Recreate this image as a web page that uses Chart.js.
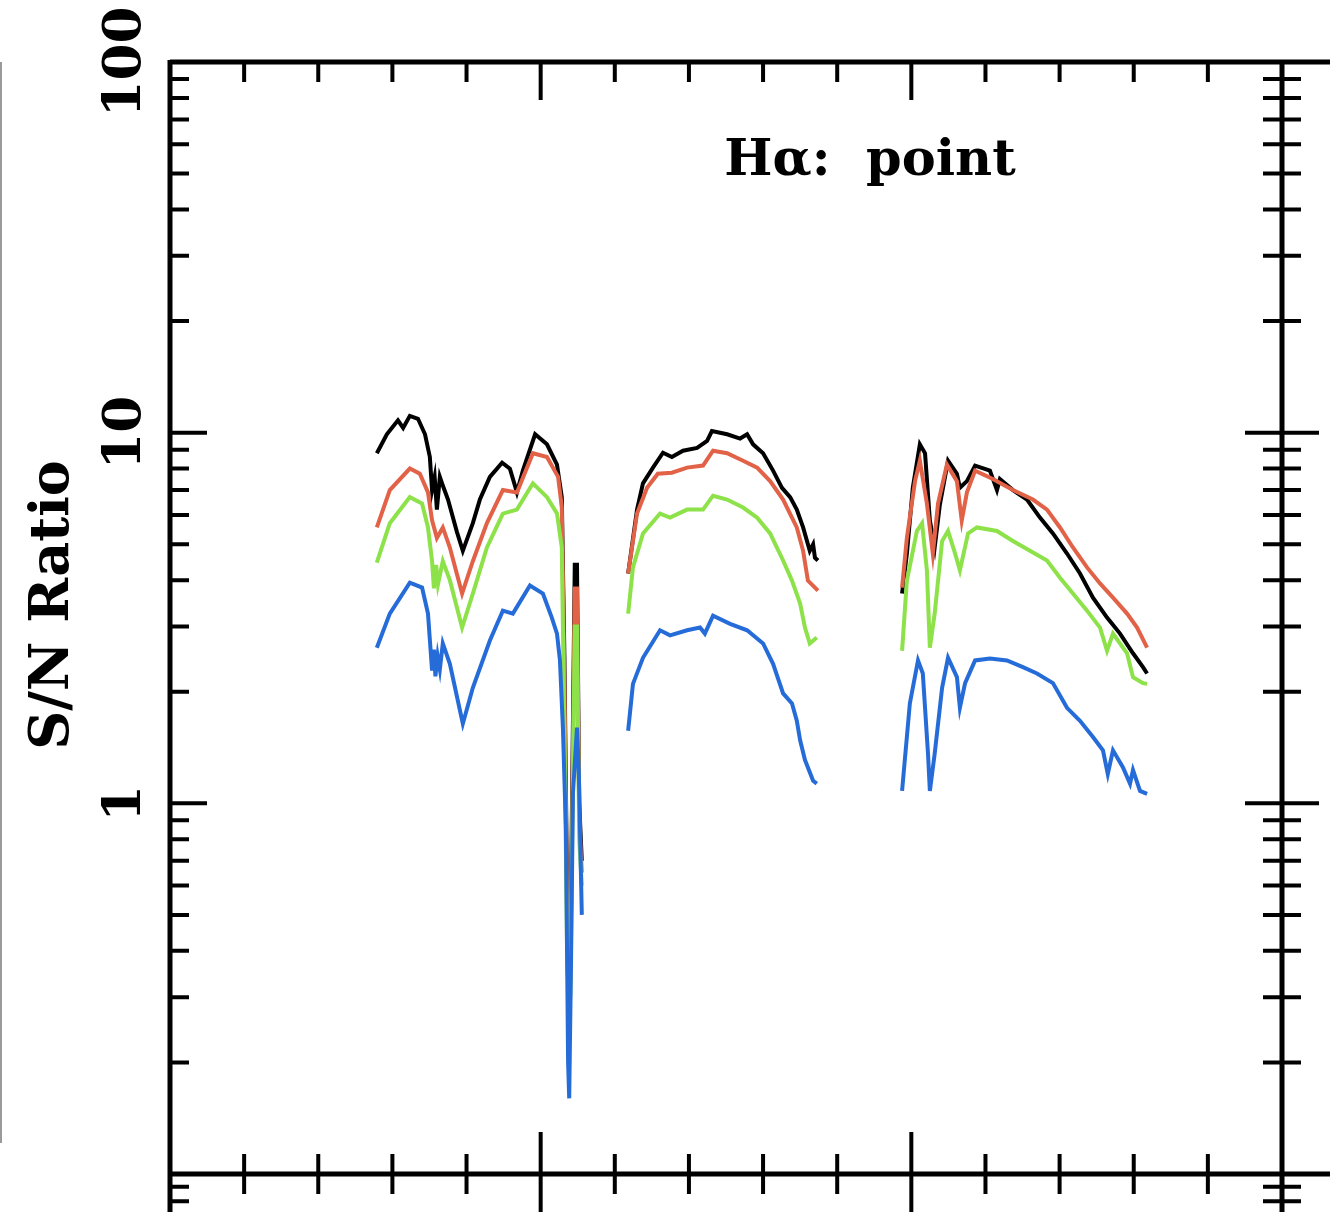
<!DOCTYPE html>
<html>
<head>
<meta charset="utf-8">
<script src="https://cdn.jsdelivr.net/npm/chart.js@4.4.1/dist/chart.umd.min.js"></script>
<style>
  html, body { margin: 0; padding: 0; background: #fff; }
  canvas { display: block; }
</style>
</head>
<body>
<canvas id="snChart" width="1342" height="1212"></canvas>
<script>
// datos: [redshift, S/N] por banda (J, H, K)
const negroJ = [[0.558,8.8],[0.585,9.9],[0.615,10.8],[0.629,10.3],[0.647,11.1],[0.669,10.9],[0.688,9.9],[0.701,8.6],[0.707,7.0],[0.714,7.6],[0.720,6.2],[0.728,7.6],[0.736,7.2],[0.750,6.6],[0.774,5.4],[0.790,4.8],[0.817,5.7],[0.836,6.6],[0.863,7.6],[0.896,8.3],[0.917,8.0],[0.936,6.9],[0.952,7.9],[0.985,9.9],[1.017,9.3],[1.044,8.2],[1.057,6.7],[1.064,2.5],[1.072,0.5],[1.080,0.4],[1.092,4.4],[1.098,4.4],[1.104,1.0],[1.111,0.7]];
const rojoJ = [[0.558,5.55],[0.593,7.0],[0.647,8.0],[0.674,7.75],[0.696,6.9],[0.707,5.8],[0.720,5.2],[0.736,5.55],[0.755,4.9],[0.788,3.68],[0.817,4.5],[0.855,5.7],[0.898,7.0],[0.936,6.9],[0.979,8.8],[1.017,8.6],[1.047,7.6],[1.057,6.3],[1.064,2.2],[1.072,0.45],[1.080,0.35],[1.092,3.8],[1.098,3.8],[1.104,0.9],[1.111,0.65]];
const verdeJ = [[0.558,4.46],[0.593,5.7],[0.647,6.7],[0.680,6.44],[0.696,5.55],[0.707,4.5],[0.712,3.8],[0.718,4.4],[0.723,3.9],[0.736,4.5],[0.755,4.0],[0.788,2.98],[0.817,3.68],[0.855,4.9],[0.898,6.05],[0.936,6.2],[0.979,7.3],[1.017,6.7],[1.044,6.05],[1.057,4.9],[1.064,1.6],[1.072,0.35],[1.080,0.3],[1.092,3.0],[1.098,3.0],[1.104,0.8],[1.111,0.6]];
const azulJ = [[0.558,2.63],[0.593,3.25],[0.647,3.94],[0.680,3.82],[0.696,3.25],[0.707,2.28],[0.712,2.6],[0.716,2.2],[0.722,2.5],[0.728,2.3],[0.736,2.7],[0.755,2.38],[0.790,1.64],[0.817,2.05],[0.863,2.75],[0.898,3.31],[0.925,3.25],[0.971,3.87],[1.006,3.68],[1.030,3.17],[1.044,2.87],[1.052,2.43],[1.060,1.6],[1.068,0.86],[1.074,0.2],[1.077,0.16],[1.082,0.38],[1.087,1.06],[1.098,1.6],[1.103,1.2],[1.111,0.5]];

const negroH = [[1.236,4.17],[1.260,6.2],[1.276,7.3],[1.303,8.05],[1.330,8.83],[1.354,8.6],[1.384,8.94],[1.422,9.1],[1.449,9.5],[1.462,10.1],[1.503,9.9],[1.538,9.64],[1.557,9.9],[1.573,9.3],[1.600,8.8],[1.627,7.9],[1.651,7.1],[1.673,6.7],[1.691,6.2],[1.708,5.55],[1.726,4.8],[1.735,5.0],[1.740,4.6],[1.748,4.52]];
const rojoH = [[1.236,4.17],[1.260,6.05],[1.287,7.1],[1.316,7.75],[1.354,7.8],[1.395,8.05],[1.438,8.15],[1.465,8.94],[1.503,8.8],[1.546,8.4],[1.584,8.05],[1.619,7.4],[1.654,6.6],[1.691,5.55],[1.708,4.8],[1.721,3.99],[1.740,3.82],[1.748,3.75]];
const verdeH = [[1.236,3.25],[1.249,4.33],[1.276,5.35],[1.322,6.05],[1.349,5.9],[1.395,6.2],[1.438,6.2],[1.465,6.76],[1.503,6.6],[1.546,6.28],[1.584,5.9],[1.619,5.35],[1.654,4.52],[1.678,3.99],[1.700,3.46],[1.713,2.98],[1.726,2.7],[1.745,2.8]];
const azulH = [[1.236,1.57],[1.249,2.1],[1.276,2.47],[1.322,2.93],[1.349,2.84],[1.395,2.93],[1.430,2.98],[1.443,2.87],[1.465,3.21],[1.511,3.05],[1.557,2.93],[1.600,2.7],[1.627,2.38],[1.654,1.98],[1.678,1.86],[1.691,1.67],[1.700,1.48],[1.713,1.31],[1.721,1.25],[1.735,1.15],[1.745,1.13]];

const negroK = [[1.975,3.68],[1.988,4.72],[2.004,7.1],[2.023,9.3],[2.037,8.8],[2.050,5.8],[2.063,4.9],[2.077,6.4],[2.099,8.4],[2.123,7.75],[2.131,7.1],[2.150,7.4],[2.172,8.15],[2.212,7.9],[2.231,7.0],[2.239,7.5],[2.274,7.0],[2.312,6.6],[2.347,5.9],[2.382,5.35],[2.420,4.72],[2.455,4.17],[2.490,3.59],[2.528,3.17],[2.563,2.87],[2.598,2.54],[2.625,2.33],[2.636,2.24]];
const rojoK = [[1.975,3.82],[1.988,5.21],[2.010,7.4],[2.023,8.4],[2.042,6.44],[2.058,4.72],[2.072,6.44],[2.096,8.2],[2.123,7.4],[2.136,5.79],[2.150,6.9],[2.172,7.9],[2.220,7.5],[2.274,7.0],[2.328,6.6],[2.366,6.2],[2.401,5.55],[2.436,4.9],[2.474,4.33],[2.509,3.92],[2.544,3.59],[2.582,3.25],[2.609,2.98],[2.636,2.63]];
const verdeK = [[1.975,2.58],[1.988,3.99],[2.015,5.43],[2.029,5.7],[2.042,4.25],[2.050,2.63],[2.063,3.25],[2.083,5.1],[2.099,5.43],[2.118,4.72],[2.131,4.25],[2.153,5.35],[2.177,5.55],[2.231,5.43],[2.274,5.1],[2.320,4.8],[2.366,4.52],[2.401,4.06],[2.436,3.68],[2.474,3.31],[2.509,2.98],[2.528,2.58],[2.544,2.87],[2.582,2.54],[2.598,2.19],[2.625,2.11],[2.636,2.1]];
const azulK = [[1.975,1.08],[1.996,1.86],[2.018,2.43],[2.031,2.24],[2.045,1.36],[2.050,1.08],[2.063,1.36],[2.083,2.05],[2.099,2.47],[2.123,2.19],[2.131,1.81],[2.145,2.11],[2.172,2.43],[2.212,2.46],[2.258,2.43],[2.301,2.33],[2.339,2.24],[2.382,2.11],[2.420,1.81],[2.455,1.67],[2.490,1.51],[2.517,1.39],[2.530,1.2],[2.544,1.39],[2.571,1.25],[2.590,1.13],[2.598,1.23],[2.617,1.08],[2.636,1.06]];

// etiquetas del eje y
const etiquetasY = [100, 10, 1];

// para unir las tres bandas con huecos entre ellas
function armarSerie(j, h, k) {
    const aPunto = p => ({ x: p[0], y: p[1] });
    return [...j.map(aPunto), { x: 1.17, y: null }, ...h.map(aPunto), { x: 1.86, y: null }, ...k.map(aPunto)];
}

// marco, marcas y textos al estilo de la figura original
const marco = {
    id: 'marco',
    afterDraw(chart) {
        const c = chart.ctx;
        const { left, right, top, bottom } = chart.chartArea;
        const xs = chart.scales.x, ys = chart.scales.y;
        const H = chart.height;
        c.save();
        c.lineCap = 'butt';

        // linea gris del panel de la izquierda
        c.strokeStyle = '#9a9a9a';
        c.lineWidth = 2;
        c.beginPath(); c.moveTo(1, top); c.lineTo(1, 1143); c.stroke();

        c.strokeStyle = '#000';
        c.lineWidth = 5;
        c.beginPath();
        c.moveTo(left, top); c.lineTo(right + 48, top);
        c.moveTo(left, bottom); c.lineTo(right + 48, bottom);
        c.moveTo(left, top - 2); c.lineTo(left, H);
        c.moveTo(right, top - 2); c.lineTo(right, H);
        c.stroke();

        // marcas del eje y (log)
        c.lineWidth = 4;
        c.beginPath();
        [0.1, 1, 10].forEach(d => {
            for (let m = 1; m <= 9; m++) {
                const v = d * m;
                if (v <= 0.1 || v >= 100) continue;
                const y = ys.getPixelForValue(v);
                const largo = m === 1 ? 37 : 19;
                c.moveTo(left, y); c.lineTo(left + largo, y);
                c.moveTo(right - largo, y); c.lineTo(right + largo, y);
            }
        });
        // comienzo del panel de abajo
        [90, 80, 70].forEach(v => {
            const y = bottom + 280 * Math.log10(100 / v);
            c.moveTo(left, y); c.lineTo(left + 19, y);
            c.moveTo(right - 19, y); c.lineTo(right + 19, y);
        });
        c.stroke();

        // marcas del eje x
        c.beginPath();
        for (let i = 1; i < 15; i++) {
            const z = i * 0.2;
            const x = xs.getPixelForValue(z);
            const mayor = i % 5 === 0;
            c.moveTo(x, top); c.lineTo(x, top + (mayor ? 38 : 20));
            if (mayor) { c.moveTo(x, bottom - 42); c.lineTo(x, H); }
            else { c.moveTo(x, bottom - 20); c.lineTo(x, bottom + 20); }
        }
        c.stroke();

        // textos
        c.fillStyle = '#000';
        c.font = 'bold 53px "DejaVu Serif"';
        c.textAlign = 'center';
        c.textBaseline = 'alphabetic';
        etiquetasY.forEach(v => {
            const y = ys.getPixelForValue(v);
            c.save();
            c.translate(140, y);
            c.rotate(-Math.PI / 2);
            c.fillText(String(v), 0, 0);
            c.restore();
        });

        c.font = 'bold 54px "DejaVu Serif"';
        c.save();
        c.translate(68, 605);
        c.rotate(-Math.PI / 2);
        c.fillText('S/N Ratio', 0, 0);
        c.restore();

        c.font = 'bold 51px "DejaVu Serif"';
        c.fillText('H\u03b1:  point', 870, 175);
        c.restore();
    }
};

const ctx = document.getElementById('snChart');

new Chart(ctx, {
    type: 'line',
    data: {
        datasets: [
            { label: 'negro', data: armarSerie(negroJ, negroH, negroK), borderColor: '#000000', order: 4 },
            { label: 'rojo', data: armarSerie(rojoJ, rojoH, rojoK), borderColor: 'rgb(226,98,72)', order: 3 },
            { label: 'verde', data: armarSerie(verdeJ, verdeH, verdeK), borderColor: 'rgb(140,226,72)', order: 2 },
            { label: 'azul', data: armarSerie(azulJ, azulH, azulK), borderColor: 'rgb(38,108,216)', order: 1 }
        ]
    },
    options: {
        responsive: false,
        animation: false,
        devicePixelRatio: 1,
        spanGaps: false,
        layout: { padding: { left: 170, top: 62, right: 60, bottom: 38 } },
        plugins: { legend: { display: false }, tooltip: { enabled: false } },
        elements: {
            point: { radius: 0 },
            line: { tension: 0, borderWidth: 4, fill: false }
        },
        scales: {
            x: { type: 'linear', min: 0, max: 3, display: false },
            y: { type: 'logarithmic', min: 0.1, max: 100, display: false }
        }
    },
    plugins: [marco]
});
</script>
</body>
</html>
